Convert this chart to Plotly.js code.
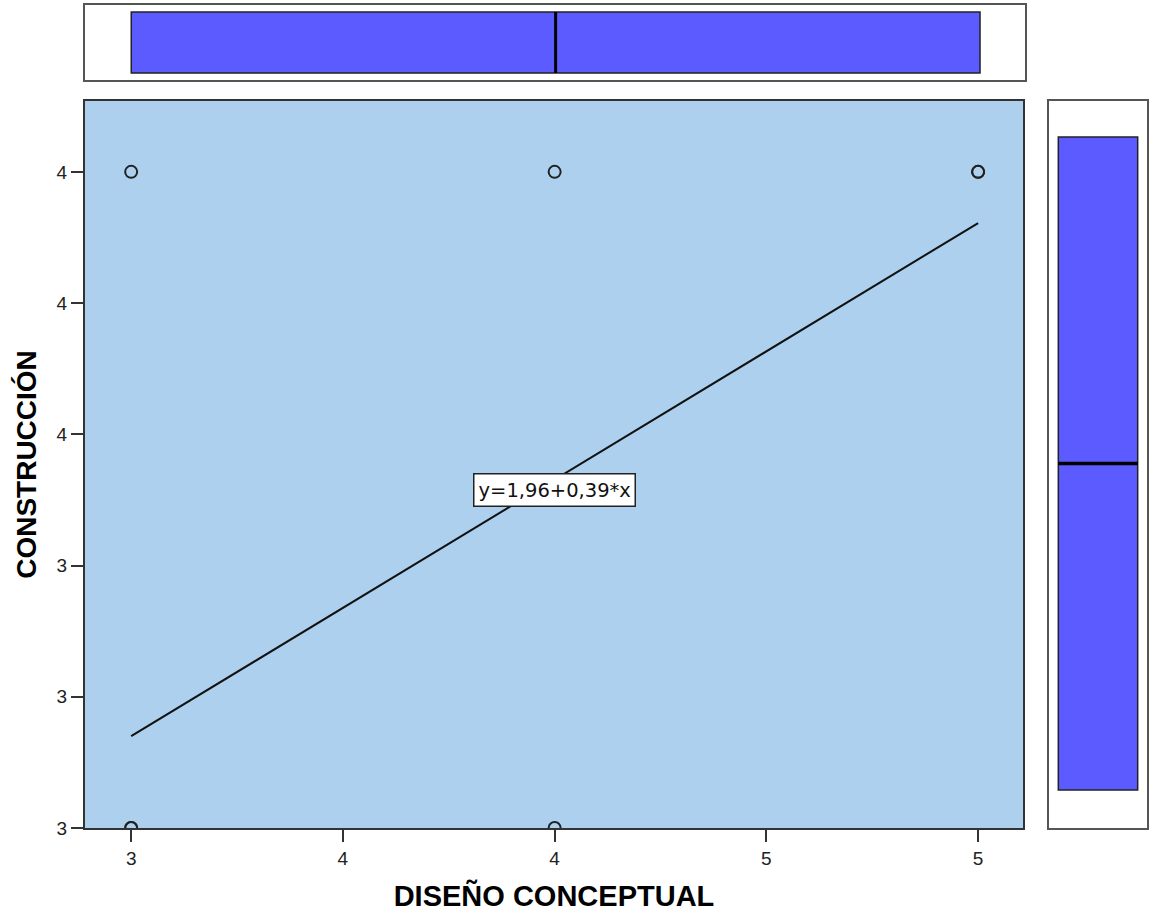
<!DOCTYPE html>
<html>
<head>
<meta charset="utf-8">
<script src="https://cdn.plot.ly/plotly-3.0.1.min.js"></script>
<style>html,body{margin:0;padding:0;background:#fff;}#chart{width:1149px;height:912px;}</style>
</head>
<body>
<div id="chart"></div>
<script>
// ---- data ----
// (duplicated cases drawn on top of each other, as in the reference)
const disenoX = [3, 4, 5, 5, 3, 3, 4];           // DISEÑO CONCEPTUAL
const construccionY = [4, 4, 4, 4, 3, 3, 3];     // CONSTRUCCIÓN
const fitX = [3, 5];
const fitY = [3.14, 3.922];
const fitLabel = 'y=1,96+0,39*x';
const fitLabelPos = [4, 3.515];

const xTickVals = [3, 3.5, 4, 4.5, 5];
const xTickText = ['3', '4', '4', '5', '5'];
const yTickVals = [3, 3.2, 3.4, 3.6, 3.8, 4.0];
const yTickText = ['3', '3', '3', '4', '4', '4'];

// box-plot statistics
const boxX = {min: 3, q1: 3, median: 4, q3: 5, max: 5};
const boxY = {min: 3, q1: 3, median: 3.5, q3: 4, max: 4};

const W = 1149, H = 912;
const BOXW = 0.81;
const boxFill = '#5b5bff';
const fontFam = '"Liberation Sans", Arial, sans-serif';
const labelFam = '"DejaVu Sans", Verdana, sans-serif';

const traces = [
  {
    type: 'scatter', mode: 'markers', x: disenoX, y: construccionY,
    xaxis: 'x', yaxis: 'y', cliponaxis: true,
    marker: {symbol: 'circle-open', size: 12, color: '#222', line: {width: 2, color: '#222'}},
    showlegend: false, hoverinfo: 'x+y'
  },
  {
    type: 'scatter', mode: 'lines', x: fitX, y: fitY, xaxis: 'x', yaxis: 'y',
    line: {color: '#111', width: 2}, showlegend: false
  },
  {
    type: 'box', orientation: 'h', xaxis: 'x2', yaxis: 'y2', y: [0],
    q1: [boxX.q1], median: [boxX.median], q3: [boxX.q3],
    lowerfence: [boxX.min], upperfence: [boxX.max],
    width: BOXW, whiskerwidth: 0.55, fillcolor: boxFill,
    line: {color: '#222', width: 1.5}, showlegend: false, hoverinfo: 'x'
  },
  {
    type: 'scatter', mode: 'lines', xaxis: 'x2', yaxis: 'y2',
    x: [boxX.median, boxX.median], y: [-BOXW / 2, BOXW / 2],
    line: {color: '#000', width: 3}, showlegend: false, hoverinfo: 'skip'
  },
  {
    type: 'box', orientation: 'v', xaxis: 'x3', yaxis: 'y3', x: [0],
    q1: [boxY.q1], median: [boxY.median], q3: [boxY.q3],
    lowerfence: [boxY.min], upperfence: [boxY.max],
    width: BOXW, whiskerwidth: 0.55, fillcolor: boxFill,
    line: {color: '#222', width: 1.5}, showlegend: false, hoverinfo: 'y'
  },
  {
    type: 'scatter', mode: 'lines', xaxis: 'x3', yaxis: 'y3',
    y: [boxY.median, boxY.median], x: [-BOXW / 2, BOXW / 2],
    line: {color: '#000', width: 3.5}, showlegend: false, hoverinfo: 'skip'
  }
];

const xRange = [2.891, 5.106];
const yRange = [3.0, 4.108];

const layout = {
  width: W, height: H,
  margin: {l: 0, r: 0, t: 0, b: 0},
  paper_bgcolor: '#ffffff',
  plot_bgcolor: '#acd0ee',
  font: {family: fontFam, color: '#222', size: 18},
  showlegend: false,
  xaxis: {
    domain: [85 / W, 1023 / W], anchor: 'y', range: xRange,
    tickvals: xTickVals, ticktext: xTickText,
    ticks: 'outside', ticklen: 12, tickwidth: 2, tickcolor: '#333',
    showgrid: false, zeroline: false,
    showline: true, mirror: true, linecolor: '#333', linewidth: 2,
    tickfont: {size: 19, family: fontFam, color: '#222'},
    title: {text: 'DISEÑO CONCEPTUAL', standoff: 19,
            font: {size: 29, family: fontFam, color: '#000', weight: 'bold'}},
    automargin: false
  },
  yaxis: {
    domain: [1 - 828 / H, 1 - 101 / H], anchor: 'x', range: yRange,
    tickvals: yTickVals, ticktext: yTickText,
    ticks: 'outside', ticklen: 12, tickwidth: 2, tickcolor: '#333',
    showgrid: false, zeroline: false,
    showline: true, mirror: true, linecolor: '#333', linewidth: 2,
    tickfont: {size: 19, family: fontFam, color: '#222'},
    title: {text: 'CONSTRUCCIÓN', standoff: 12,
            font: {size: 28, family: fontFam, color: '#000', weight: 'bold'}},
    automargin: false
  },
  xaxis2: {
    domain: [85 / W, 1025 / W], anchor: 'y2', range: xRange,
    showticklabels: false, ticks: '', showgrid: false, zeroline: false,
    showline: true, mirror: true, linecolor: '#555', linewidth: 2
  },
  yaxis2: {
    domain: [1 - 80 / H, 1 - 5 / H], anchor: 'x2', range: [-0.5, 0.5],
    showticklabels: false, ticks: '', showgrid: false, zeroline: false,
    showline: true, mirror: true, linecolor: '#555', linewidth: 2
  },
  xaxis3: {
    domain: [1049 / W, 1147 / W], anchor: 'y3', range: [-0.5, 0.5],
    showticklabels: false, ticks: '', showgrid: false, zeroline: false,
    showline: true, mirror: true, linecolor: '#555', linewidth: 2
  },
  yaxis3: {
    domain: [1 - 828 / H, 1 - 101 / H], anchor: 'x3', range: [2.942, 4.055],
    showticklabels: false, ticks: '', showgrid: false, zeroline: false,
    showline: true, mirror: true, linecolor: '#555', linewidth: 2
  },
  annotations: [{
    xref: 'x', yref: 'y', x: fitLabelPos[0], y: fitLabelPos[1],
    text: fitLabel, showarrow: false,
    font: {size: 19.5, family: labelFam, color: '#111'},
    bgcolor: '#ffffff', bordercolor: '#222', borderwidth: 1.5, borderpad: 4
  }]
};

// white plot backgrounds for the marginal panels
layout.shapes = [
  {type: 'rect', xref: 'x2 domain', yref: 'y2 domain', x0: 0, x1: 1, y0: 0, y1: 1,
   fillcolor: '#fff', line: {width: 0}, layer: 'below'},
  {type: 'rect', xref: 'x3 domain', yref: 'y3 domain', x0: 0, x1: 1, y0: 0, y1: 1,
   fillcolor: '#fff', line: {width: 0}, layer: 'below'}
];

Plotly.newPlot('chart', traces, layout, {displayModeBar: false, staticPlot: true});
</script>
</body>
</html>
